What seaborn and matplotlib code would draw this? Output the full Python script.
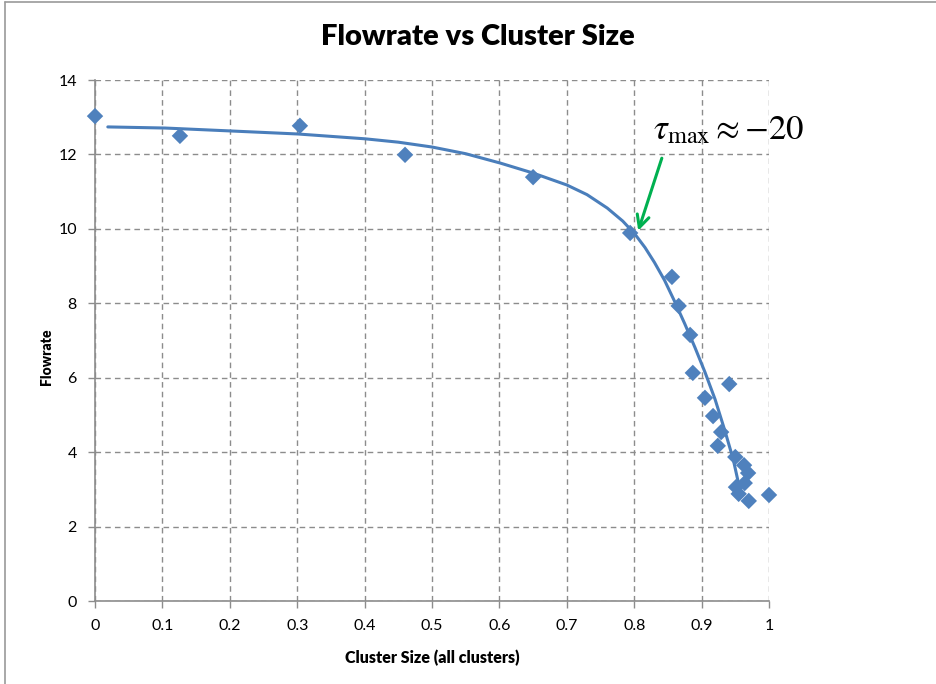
import matplotlib
matplotlib.use("Agg")
import matplotlib.pyplot as plt
from matplotlib.lines import Line2D
import seaborn as sns
import pandas as pd

# Measured samples
cluster_size = [0.0, 0.126, 0.304, 0.46, 0.65, 0.794, 0.856, 0.866, 0.883, 0.887,
                0.941, 0.905, 0.917, 0.929, 0.924, 0.950, 0.963, 0.969, 0.964,
                0.951, 0.955, 0.970, 1.0]
flowrate = [13.03, 12.50, 12.77, 11.99, 11.39, 9.89, 8.71, 7.93, 7.15, 6.13,
            5.83, 5.46, 4.97, 4.54, 4.17, 3.87, 3.65, 3.44, 3.17,
            3.06, 2.88, 2.69, 2.85]

# Model curve samples
curve_x = [0.019, 0.104, 0.203, 0.301, 0.401, 0.45, 0.50, 0.55, 0.601, 0.65,
           0.70, 0.73, 0.76, 0.783, 0.801, 0.816, 0.83, 0.845, 0.86, 0.875,
           0.89, 0.905, 0.92, 0.935, 0.947, 0.957]
curve_y = [12.74, 12.71, 12.63, 12.55, 12.42, 12.33, 12.20, 12.02, 11.77, 11.50,
           11.18, 10.92, 10.56, 10.21, 9.86, 9.50, 9.10, 8.62, 8.05, 7.45,
           6.82, 6.15, 5.42, 4.55, 3.80, 2.98]

x_ticks = [0, 0.1, 0.2, 0.3, 0.4, 0.5, 0.6, 0.7, 0.8, 0.9, 1]
x_tick_labels = ["0", "0.1", "0.2", "0.3", "0.4", "0.5", "0.6", "0.7", "0.8", "0.9", "1"]
y_ticks = [0, 2, 4, 6, 8, 10, 12, 14]

points = pd.DataFrame({"size": cluster_size, "flow": flowrate})
curve = pd.DataFrame({"size": curve_x, "flow": curve_y})

sns.set_theme(style="white")
plt.rcParams["font.family"] = ["Lato", "DejaVu Sans"]
plt.rcParams["mathtext.fontset"] = "stix"
plt.rcParams["text.color"] = "black"

blue = "#4A7EBB"
fig = plt.figure(figsize=(9.37, 6.84), dpi=100)
ax = fig.add_axes([0.1014, 0.1213, 0.7193, 0.7617])

sns.lineplot(data=curve, x="size", y="flow", sort=False, ax=ax,
             color=blue, lw=2.2, zorder=3)
sns.scatterplot(data=points, x="size", y="flow", ax=ax, marker="D", s=70,
                color="#4F81BD", edgecolor="none", zorder=4, clip_on=False)

ax.set_xlim(0, 1)
ax.set_ylim(0, 14)
ax.set_xticks(x_ticks)
ax.set_xticklabels(x_tick_labels)
ax.set_yticks(y_ticks)
ax.grid(True, color="#8C8C8C", linestyle=(0, (4, 3)), lw=1.0)
ax.set_axisbelow(True)
for side in ("top", "right"):
    ax.spines[side].set_visible(False)
for side in ("left", "bottom"):
    ax.spines[side].set_color("#8C8C8C")
    ax.spines[side].set_linewidth(1.2)
ax.tick_params(axis="both", which="major", length=5, width=1, color="#8C8C8C",
               direction="out", labelsize=11.5, labelcolor="black", pad=8)
ax.tick_params(axis="x", bottom=True)
ax.tick_params(axis="y", left=True)

ax.set_xlabel("Cluster Size (all clusters)", fontsize=11.5, fontweight="heavy",
              color="black", labelpad=12)
ax.set_ylabel("Flowrate", fontsize=10, fontweight="heavy", color="black")
ax.yaxis.set_label_coords(-0.062, 0.468)
fig.suptitle("Flowrate vs Cluster Size", x=0.51, y=0.965, fontsize=21,
             fontweight="heavy", color="black")

ax.text(0.94, 12.65, r"$\tau_{\max} \approx {-}20$", fontsize=25, ha="center",
        va="center", color="black")
ax.annotate("", xy=(0.806, 9.95), xytext=(0.841, 11.9),
            arrowprops=dict(arrowstyle="->", color="#00B050", lw=2.2,
                            mutation_scale=22, shrinkA=0, shrinkB=0))

# Chart frame edges
fig.add_artist(Line2D([0.0053, 0.0053], [0, 0.997], transform=fig.transFigure,
                      color="#9A9A9A", lw=1.2))
fig.add_artist(Line2D([0.0053, 1], [0.997, 0.997], transform=fig.transFigure,
                      color="#9A9A9A", lw=1.2))

fig.savefig("out.png", dpi=100)
